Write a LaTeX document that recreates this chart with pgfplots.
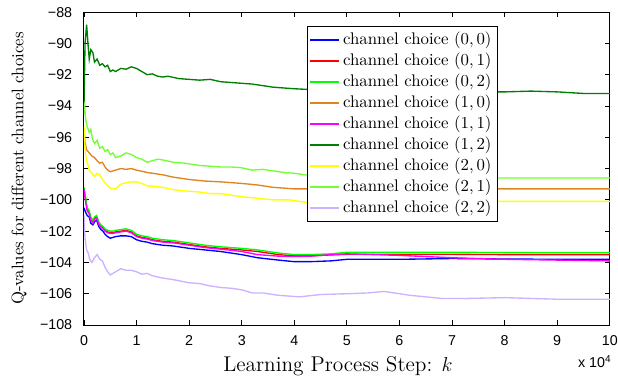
\documentclass[border=0pt]{standalone}
\usepackage{fontspec}
\usepackage{pgfplots}
\pgfplotsset{compat=1.18}
\newfontfamily\tickfont{Liberation Sans}
\definecolor{c00}{rgb}{0,0,1}
\definecolor{c01}{rgb}{1,0,0}
\definecolor{c02}{rgb}{0,1,0}
\definecolor{c10}{rgb}{0.87,0.52,0.12}
\definecolor{c11}{rgb}{1,0,1}
\definecolor{c12}{rgb}{0,0.5,0}
\definecolor{c20}{rgb}{1,1,0}
\definecolor{c21}{rgb}{0.45,1,0.2}
\definecolor{c22}{rgb}{0.8,0.7,1}
\begin{document}
\begin{tikzpicture}
\path[use as bounding box] (-50pt,-35.7pt) rectangle (317.9pt,193.5pt);
\begin{axis}[
  name=ax,
  at={(0,0)}, anchor=south west,
  scale only axis, width=313pt, height=186.3pt,
  xmin=0, xmax=10, ymin=-108, ymax=-88,
  xtick={0,1,2,3,4,5,6,7,8,9,10},
  xticklabels={0,1,2,3,4,5,6,7,8,9,10},
  ytick={-108,-106,-104,-102,-100,-98,-96,-94,-92,-90,-88},
  yticklabels={−108,−106,−104,−102,−100,−98,−96,−94,−92,−90,−88},
  tick align=inside, tick pos=both, major tick length=3pt,
  axis line style={line width=0.6pt}, every tick/.style={black, line width=0.5pt},
  xticklabel style={font=\tickfont\fontsize{8.5}{10}\selectfont, yshift=-2.6pt},
  yticklabel style={font=\tickfont\fontsize{8.5}{10}\selectfont, xshift=-3.5pt},
  xlabel={Learning Process Step: $k$},
  ylabel={Q-values for different channel choices},
  every axis x label/.style={at={(axis description cs:0.483,-0.147)}, anchor=base, font=\fontsize{12.7}{15}\selectfont},
  every axis y label/.style={at={(axis description cs:-0.1236,0.5)}, anchor=center, rotate=90, font=\fontsize{10}{12}\selectfont},
  legend cell align=left,
  legend style={at={(rel axis cs:0.424,0.955)}, anchor=north west, draw=black, font=\fontsize{10}{12}\selectfont, inner sep=1.5pt, row sep=-0.5pt, fill=white},
  legend image post style={line width=0.8pt},
  every axis plot/.append style={line width=0.8pt},
]
\addplot[c00] coordinates {(0,-100.5) (0.03,-100.8) (0.06,-101.0) (0.1,-101.1) (0.13,-101.5) (0.17,-101.6) (0.2,-101.4) (0.24,-101.3) (0.28,-101.7) (0.32,-101.9) (0.36,-102.0) (0.4,-102.2) (0.45,-102.35) (0.5,-102.45) (0.55,-102.4) (0.6,-102.35) (0.7,-102.3) (0.8,-102.3) (0.9,-102.35) (1.0,-102.55) (1.1,-102.65) (1.2,-102.7) (1.3,-102.8) (1.4,-102.85) (1.5,-102.9) (1.7,-102.95) (2.0,-103.1) (2.3,-103.2) (2.6,-103.3) (3.0,-103.5) (3.3,-103.7) (3.7,-103.85) (4.0,-103.95) (4.3,-103.95) (4.7,-103.9) (5.0,-103.8) (6,-103.8) (7,-103.75) (8,-103.78) (9,-103.8) (10,-103.8)};
\addlegendentry{channel choice $(0,0)$}
\addplot[c01] coordinates {(0,-99.4) (0.03,-100.0) (0.06,-100.6) (0.1,-100.8) (0.13,-101.2) (0.17,-101.4) (0.2,-101.2) (0.24,-101.1) (0.28,-101.5) (0.32,-101.7) (0.36,-101.8) (0.4,-101.95) (0.45,-102.05) (0.5,-102.1) (0.55,-102.1) (0.6,-102.05) (0.7,-102.0) (0.8,-101.95) (0.9,-102.05) (1.0,-102.3) (1.1,-102.4) (1.2,-102.45) (1.3,-102.55) (1.4,-102.6) (1.5,-102.65) (1.7,-102.7) (2.0,-102.85) (2.3,-103.0) (2.6,-103.1) (3.0,-103.2) (3.3,-103.3) (3.7,-103.5) (4.0,-103.58) (4.3,-103.58) (4.7,-103.52) (5.0,-103.48) (6,-103.48) (7,-103.48) (8,-103.5) (9,-103.5) (10,-103.5)};
\addlegendentry{channel choice $(0,1)$}
\addplot[c02] coordinates {(0,-99.2) (0.03,-99.8) (0.06,-100.5) (0.1,-100.7) (0.13,-101.1) (0.17,-101.3) (0.2,-101.1) (0.24,-101.0) (0.28,-101.4) (0.32,-101.6) (0.36,-101.7) (0.4,-101.85) (0.45,-101.95) (0.5,-102.0) (0.55,-102.0) (0.6,-101.95) (0.7,-101.9) (0.8,-101.85) (0.9,-101.95) (1.0,-102.2) (1.1,-102.3) (1.2,-102.35) (1.3,-102.45) (1.4,-102.5) (1.5,-102.55) (1.7,-102.6) (2.0,-102.75) (2.3,-102.9) (2.6,-103.0) (3.0,-103.1) (3.3,-103.2) (3.7,-103.4) (4.0,-103.5) (4.3,-103.5) (4.7,-103.45) (5.0,-103.35) (6,-103.35) (7,-103.35) (8,-103.37) (9,-103.38) (10,-103.38)};
\addlegendentry{channel choice $(0,2)$}
\addplot[c10] coordinates {(0,-95.5) (0.02,-96.3) (0.05,-96.8) (0.1,-97.0) (0.15,-97.2) (0.2,-97.3) (0.25,-97.5) (0.3,-97.65) (0.35,-97.6) (0.4,-97.9) (0.45,-98.1) (0.5,-98.2) (0.6,-98.1) (0.7,-98.0) (0.8,-98.05) (0.9,-98.0) (1.0,-98.1) (1.2,-98.25) (1.4,-98.35) (1.5,-98.4) (1.7,-98.55) (2.0,-98.7) (2.3,-98.8) (2.6,-98.85) (3.0,-98.95) (3.3,-99.05) (3.6,-99.2) (4.0,-99.3) (4.5,-99.3) (5,-99.3) (6,-99.3) (7,-99.3) (8,-99.3) (9,-99.3) (10,-99.3)};
\addlegendentry{channel choice $(1,0)$}
\addplot[c11] coordinates {(0,-99.3) (0.03,-100.1) (0.06,-100.7) (0.1,-100.9) (0.13,-101.3) (0.17,-101.5) (0.2,-101.25) (0.24,-101.15) (0.28,-101.55) (0.32,-101.75) (0.36,-101.85) (0.4,-102.0) (0.45,-102.1) (0.5,-102.15) (0.55,-102.15) (0.6,-102.1) (0.7,-102.05) (0.8,-102.0) (0.9,-102.1) (1.0,-102.35) (1.1,-102.45) (1.2,-102.5) (1.3,-102.6) (1.4,-102.65) (1.5,-102.7) (1.7,-102.75) (2.0,-102.9) (2.3,-103.05) (2.6,-103.15) (3.0,-103.3) (3.3,-103.5) (3.7,-103.6) (4.0,-103.62) (4.3,-103.6) (4.7,-103.5) (5.0,-103.45) (6,-103.55) (7,-103.7) (8,-103.8) (9,-103.85) (10,-103.9)};
\addlegendentry{channel choice $(1,1)$}
\addplot[c12] coordinates {(0,-94.0) (0.02,-90.0) (0.05,-88.8) (0.08,-90.2) (0.1,-91.0) (0.13,-90.4) (0.17,-90.6) (0.2,-91.2) (0.25,-91.0) (0.3,-91.4) (0.35,-91.3) (0.4,-91.5) (0.45,-91.4) (0.5,-91.8) (0.55,-91.7) (0.6,-91.8) (0.7,-91.6) (0.8,-91.65) (0.9,-91.5) (1.0,-91.6) (1.1,-91.8) (1.2,-92.0) (1.3,-91.95) (1.4,-92.1) (1.5,-92.15) (1.6,-92.1) (1.8,-92.25) (2.0,-92.3) (2.2,-92.35) (2.4,-92.3) (2.6,-92.45) (2.8,-92.5) (3.0,-92.55) (3.2,-92.6) (3.4,-92.7) (3.6,-92.8) (3.8,-92.85) (4.0,-92.9) (4.3,-92.95) (4.6,-93.0) (5.0,-93.0) (5.5,-93.05) (6.0,-93.05) (6.5,-93.1) (7.0,-93.1) (7.5,-93.1) (8.0,-93.1) (8.5,-93.05) (9.0,-93.1) (9.5,-93.2) (10,-93.2)};
\addlegendentry{channel choice $(1,2)$}
\addplot[c20] coordinates {(0,-95.3) (0.02,-96.8) (0.05,-97.5) (0.08,-97.8) (0.1,-98.1) (0.15,-98.3) (0.2,-98.5) (0.25,-98.3) (0.3,-98.4) (0.35,-98.7) (0.4,-98.9) (0.45,-99.1) (0.5,-99.25) (0.6,-99.3) (0.7,-99.0) (0.8,-98.9) (0.9,-98.85) (1.0,-98.85) (1.1,-98.95) (1.2,-99.1) (1.35,-99.15) (1.5,-99.2) (1.7,-99.35) (2.0,-99.45) (2.2,-99.5) (2.4,-99.6) (2.6,-99.6) (2.8,-99.7) (3.0,-99.8) (3.3,-99.9) (3.6,-100.0) (3.9,-100.0) (4.2,-100.15) (4.6,-100.1) (5,-100.1) (6,-100.1) (7,-100.1) (8,-100.1) (9,-100.1) (10,-100.1)};
\addlegendentry{channel choice $(2,0)$}
\addplot[c21] coordinates {(0,-94.5) (0.01,-93.8) (0.03,-94.8) (0.06,-95.3) (0.1,-95.7) (0.13,-95.5) (0.16,-96.1) (0.2,-96.4) (0.25,-96.2) (0.3,-96.7) (0.35,-96.6) (0.4,-96.9) (0.45,-96.8) (0.5,-97.1) (0.55,-97.0) (0.6,-97.3) (0.7,-97.2) (0.8,-97.0) (0.9,-97.1) (1.0,-97.3) (1.1,-97.4) (1.2,-97.6) (1.3,-97.5) (1.4,-97.4) (1.5,-97.45) (1.7,-97.6) (1.9,-97.65) (2.0,-97.7) (2.2,-97.8) (2.4,-97.85) (2.6,-97.9) (2.8,-97.9) (3.0,-97.95) (3.2,-98.1) (3.4,-98.05) (3.6,-98.15) (3.8,-98.25) (4.0,-98.3) (4.2,-98.4) (4.5,-98.5) (5,-98.55) (6,-98.6) (7,-98.6) (8,-98.6) (9,-98.6) (10,-98.6)};
\addlegendentry{channel choice $(2,1)$}
\addplot[c22] coordinates {(0,-101.0) (0.02,-102.5) (0.05,-103.2) (0.08,-103.4) (0.11,-103.8) (0.15,-104.0) (0.2,-103.7) (0.25,-103.5) (0.3,-103.8) (0.35,-103.9) (0.4,-104.3) (0.45,-104.6) (0.5,-104.8) (0.55,-104.7) (0.6,-104.6) (0.7,-104.4) (0.8,-104.5) (0.9,-104.5) (1.0,-104.6) (1.1,-104.75) (1.2,-104.7) (1.3,-104.85) (1.5,-105.0) (1.7,-105.1) (2.0,-105.3) (2.2,-105.35) (2.4,-105.5) (2.6,-105.6) (2.8,-105.65) (3.0,-105.75) (3.2,-105.95) (3.4,-105.95) (3.7,-106.1) (4.1,-106.2) (4.5,-106.05) (5.0,-106.0) (5.4,-105.95) (5.7,-105.85) (6.0,-106.0) (6.2,-106.1) (6.5,-106.2) (6.8,-106.3) (7.3,-106.3) (8,-106.25) (8.5,-106.3) (9,-106.35) (10,-106.35)};
\addlegendentry{channel choice $(2,2)$}
\end{axis}
\node[anchor=base east, font=\tickfont\fontsize{8.5}{10}\selectfont, inner sep=0pt] at ([yshift=-25pt, xshift=1.2pt]ax.south east) {x 10\textsuperscript{4}};
\end{tikzpicture}
\end{document}
